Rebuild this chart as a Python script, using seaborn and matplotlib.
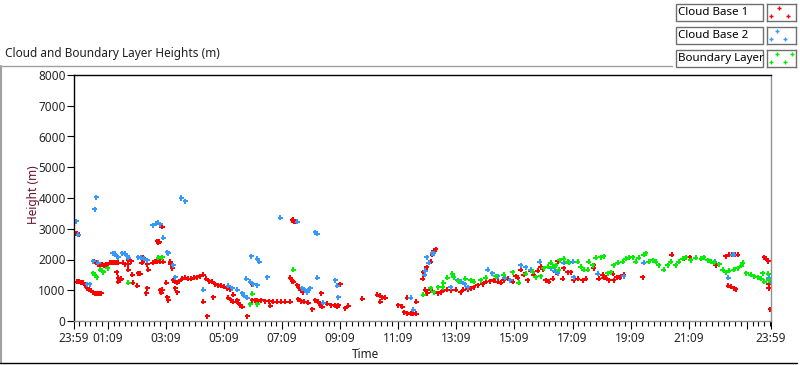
import numpy as np
import pandas as pd
import matplotlib
matplotlib.use("Agg")
import matplotlib.pyplot as plt
import seaborn as sns
from matplotlib.lines import Line2D
from matplotlib.patches import Rectangle

# time = hours elapsed since 23:59, height in metres
cb1_time = [
    0.03, 0.10, 0.17,
    0.10, 0.17, 0.24, 0.31, 0.38, 0.45, 0.52, 0.59, 0.66, 0.72, 0.79, 0.86, 0.93,
    0.69, 0.76, 0.83, 0.90, 0.97, 1.03, 1.10, 1.17, 1.24, 1.31, 1.38, 1.45, 1.52,
    1.48, 1.52, 1.59, 1.62, 1.52, 1.69, 1.76, 1.86, 1.86, 1.86, 1.97, 2.00, 2.03, 2.17,
    2.21, 2.28, 2.34, 2.38, 2.41, 2.48, 2.52, 2.52, 2.55, 2.72, 2.79, 2.86, 2.90,
    2.86, 2.90, 2.93, 3.03, 2.97, 3.07, 2.97, 3.00, 3.03, 3.17, 3.21, 3.24, 3.31, 3.34, 3.38,
    3.41, 3.48, 3.55, 3.48, 3.55, 3.62, 3.72, 3.83, 3.93, 4.03, 4.14, 4.24, 4.34, 4.45,
    4.55, 4.66, 4.76, 4.86, 4.97, 5.07, 5.17, 5.28, 5.38, 4.45, 4.59, 4.79,
    5.31, 5.41, 5.48, 5.48, 5.62, 5.66, 5.72, 5.79, 5.97, 6.14, 6.24, 6.34, 6.14,
    6.31, 6.45, 6.59, 6.72, 6.86, 7.00, 7.14, 7.28, 7.45, 6.76,
    7.52, 7.55, 7.59, 7.62, 7.45, 7.52, 7.55, 7.69, 7.76, 7.83, 7.90,
    7.72, 7.83, 7.93, 8.07, 8.21, 8.31, 8.41, 8.48, 8.55, 8.52,
    8.59, 8.72, 8.86, 9.00, 9.07, 9.17, 9.10, 9.34, 9.45, 9.93,
    10.45, 10.55, 10.62, 10.72, 10.55, 11.17, 11.31,
    11.38, 11.48, 11.59, 11.69, 11.79, 11.48, 11.79, 12.00, 12.10,
    12.03, 12.14, 12.28, 12.34, 12.38, 12.45, 12.17, 12.28, 12.41, 12.55, 12.69, 12.83, 12.97,
    12.52, 12.62, 12.72, 12.86, 13.14, 13.31, 13.41, 13.55, 13.66, 13.76, 13.90, 14.07,
    14.17, 14.34, 14.45, 14.59, 14.69, 14.79, 14.93, 15.10, 15.21, 15.28, 15.38, 15.48,
    15.62, 15.72, 15.83, 15.97, 16.07, 16.14, 16.24, 16.34, 16.48, 16.66, 16.59, 16.83,
    16.86, 17.00, 17.10, 17.21, 17.34, 17.52, 17.62, 17.90, 17.90, 18.07, 18.24, 18.41,
    18.59, 18.83, 18.93, 18.21, 18.31, 18.55, 18.69, 18.79, 19.59, 20.59, 21.00, 21.21,
    22.10, 22.45, 22.55, 22.66, 22.76, 22.86, 22.52, 22.62, 22.72, 22.79,
    23.76, 23.83, 23.90, 23.93, 23.93, 23.97,
]
cb1_height = [
    2860, 2830, 2800,
    1270, 1270, 1240, 1240, 1170, 1070, 1010, 980, 940, 910, 910, 880, 900,
    1950, 1890, 1850, 1850, 1850, 1820, 1850, 1850, 1890, 1890, 1890, 1890, 1890,
    1590, 1400, 1330, 1370, 1270, 1890, 1850, 1850, 1660, 2000, 1950, 1500, 1240, 1140,
    1560, 1530, 1890, 2050, 1980, 910, 1070, 1850, 1660, 1890, 1920, 1950, 1980,
    2600, 2540, 2570, 3060, 1920, 1920, 1000, 920, 1010, 1240, 780, 680, 1920, 1850, 1720,
    1330, 1270, 1240, 1070, 940, 1300, 1370, 1400, 1370, 1370, 1400, 1430, 1460, 1500,
    1370, 1300, 1270, 1200, 1170, 1140, 1110, 1070, 1040, 620, 160, 780,
    750, 680, 620, 850, 680, 590, 520, 460, 160, 680, 680, 650, 1200,
    680, 680, 650, 650, 620, 620, 620, 620, 620, 490,
    3280, 3300, 3250, 3220, 1400, 1300, 1270, 1170, 1070, 1000, 940,
    700, 650, 620, 590, 390, 680, 620, 520, 460, 910,
    600, 560, 520, 490, 460, 1200, 520, 420, 490, 720,
    850, 820, 780, 750, 620, 520, 460,
    290, 260, 230, 260, 230, 750, 620, 1370, 1010,
    1590, 1750, 1920, 2150, 2280, 2340, 910, 1000, 940, 910, 980, 1010, 1000,
    910, 940, 1010, 1010, 1010, 940, 1010, 1040, 1070, 1100, 1170, 1200,
    1270, 1300, 1330, 1270, 1240, 1330, 1370, 1270, 1460, 1400, 1660, 1500,
    1330, 1630, 1500, 1630, 1760, 1690, 1330, 1270, 1370, 1950, 1590, 1370,
    1720, 1590, 1590, 1330, 1370, 1330, 1370, 1820, 1720, 1370, 1400, 1330,
    1330, 1460, 1500, 1500, 1400, 1530, 1430, 1400, 1430, 2150, 2020, 2080,
    1820, 2110, 2150, 2150, 2150, 2150, 1140, 1110, 1070, 1040,
    2080, 2020, 1950, 1200, 1070, 390,
]

cb2_time = [
    0.07, 0.14, 0.72, 0.76, 0.66, 0.83, 0.45, 0.55,
    1.34, 1.41, 1.48, 1.52, 1.66, 1.76, 1.83, 1.86, 2.21, 2.31, 2.41, 2.52,
    2.72, 2.83, 2.90, 2.97, 3.07, 3.21, 3.24, 3.41, 3.48, 3.69, 3.83,
    4.45, 5.31, 5.45, 5.62, 5.79, 5.86, 5.97, 5.93, 6.10, 6.31, 6.38,
    6.07, 6.17, 6.31, 6.66, 7.10, 7.69, 7.86, 7.97, 8.03, 8.07, 8.14,
    8.31, 8.38, 8.38, 8.59, 9.00, 9.07, 9.10, 11.59, 11.69,
    12.07, 12.10, 12.14, 12.21, 12.34, 12.38, 12.97, 13.21, 13.34, 13.45, 13.55,
    14.24, 14.41, 14.59, 14.83, 15.03, 15.38, 15.55, 15.72, 16.03, 16.41, 16.55, 16.66,
    16.86, 17.17, 17.21, 18.03, 18.93, 19.62, 22.07, 22.52, 22.69, 22.72, 23.93, 24.00,
]
cb2_height = [
    3250, 2800, 3640, 4030, 1950, 1890, 1200, 1190,
    2210, 2180, 2110, 2080, 2200, 2180, 2110, 2050, 2080, 2050, 2020, 1980,
    3120, 3160, 3190, 3150, 2700, 2240, 2210, 1820, 1430, 4000, 3900,
    1010, 1140, 1070, 1010, 900, 820, 750, 1370, 2110, 2020, 1920,
    1270, 1200, 1170, 1430, 3350, 3220, 1070, 1000, 940, 1000, 1070,
    2890, 2830, 1400, 590, 1330, 1140, 780, 750, 360,
    1500, 1630, 2080, 1890, 2210, 2210, 1100, 1330, 1270, 1200, 1100,
    1660, 1560, 1460, 1400, 1330, 1820, 1750, 1660, 1920, 1720, 1630, 1560,
    1890, 1920, 1430, 1530, 1460, 1890, 1920, 1400, 2150, 2150, 1400, 1270,
]

bl_time = [
    0.66, 0.72, 0.79, 0.90, 0.97, 1.00, 1.17, 1.86, 2.90, 3.03,
    6.07, 6.31, 6.14, 7.55, 12.03,
    12.28, 12.38, 12.55, 12.69, 12.72, 12.86, 13.03, 13.07, 13.24, 13.48, 13.66, 13.76, 14.00,
    14.17, 14.52, 14.79, 15.10, 15.31, 15.55, 15.79, 15.90, 16.07, 16.17, 16.31, 16.41,
    16.48, 16.59, 16.69, 16.72, 16.86, 17.00, 17.03, 17.34, 17.45, 17.55, 17.69, 17.72,
    17.86, 17.97, 18.14, 18.24, 18.38, 18.48, 18.59, 18.72, 18.90, 19.00, 19.10, 19.24,
    19.34, 19.45, 19.62, 19.69, 19.79, 19.93, 20.03, 20.14, 20.31, 20.45, 20.55, 20.72,
    20.83, 20.97, 21.07, 21.24, 21.41, 21.59, 21.69, 21.83, 21.93, 22.03, 22.21, 22.34,
    22.45, 22.55, 22.72, 22.86, 22.97, 23.03, 23.14, 23.31, 23.41, 23.55, 23.66, 23.72,
    23.76, 23.90, 23.93,
]
bl_height = [
    1560, 1500, 1430, 1660, 1630, 1590, 1720, 1240, 2050, 2080,
    550, 550, 880, 1660, 850,
    1070, 940, 1100, 1100, 1240, 1400, 1530, 1430, 1300, 1370, 1330, 1270, 1330,
    1400, 1460, 1500, 1590, 1240, 1530, 1600, 1430, 1460, 1720, 1760, 1890,
    1760, 1820, 1660, 1980, 2020, 1920, 1890, 1920, 1760, 1660, 1660, 1920,
    1820, 2050, 2080, 2110, 1560, 1590, 1820, 1890, 1920, 2020, 2050, 2080,
    1920, 2050, 2150, 2210, 1920, 1980, 1920, 1820, 1660, 1820, 1920, 1820,
    1920, 2020, 2080, 1980, 2050, 2020, 2080, 1980, 1920, 1890, 1850, 1660,
    1590, 1630, 1660, 1720, 1790, 1890, 1560, 1500, 1460, 1430, 1370, 1560,
    1270, 1530, 1330,
]

series_names = ["Cloud Base 1", "Cloud Base 2", "Boundary Layer"]
series_colors = ["#FF0000", "#3399FF", "#00EE00"]

tick_hours = [0, 1 + 10 / 60, 3 + 10 / 60, 5 + 10 / 60, 7 + 10 / 60, 9 + 10 / 60, 11 + 10 / 60,
              13 + 10 / 60, 15 + 10 / 60, 17 + 10 / 60, 19 + 10 / 60, 21 + 10 / 60, 23 + 10 / 60, 24]
tick_labels = ["23:59", "01:09", "03:09", "05:09", "07:09", "09:09", "11:09",
               "13:09", "15:09", "17:09", "19:09", "21:09", "", "23:59"]

df = pd.concat([
    pd.DataFrame({"Time": cb1_time, "Height": cb1_height, "Series": series_names[0]}),
    pd.DataFrame({"Time": cb2_time, "Height": cb2_height, "Series": series_names[1]}),
    pd.DataFrame({"Time": bl_time, "Height": bl_height, "Series": series_names[2]}),
], ignore_index=True)

sns.set_theme(style="white")
plt.rcParams["font.family"] = ["Noto Sans", "DejaVu Sans"]

W, H = 800, 365
fig = plt.figure(figsize=(W / 100, H / 100), dpi=100)
fig.patch.set_facecolor("white")


def fx(x):
    return x / W


def fy(y):
    return 1 - y / H


ax = fig.add_axes([fx(74), fy(321), fx(771 - 74), (321 - 75) / H])
sns.scatterplot(data=df, x="Time", y="Height", hue="Series",
                palette=dict(zip(series_names, series_colors)),
                marker="+", s=13, linewidth=1.1, legend=False, ax=ax)
for coll in ax.collections:
    coll.set_antialiased(False)

ax.set_xlim(0, 24)
ax.set_ylim(0, 8000)
ax.set_yticks(range(0, 8001, 1000))
ax.set_xticks(tick_hours)
ax.set_xticklabels(tick_labels)
ax.set_xticks(np.arange(1 + 10 / 60 - 1.0, 24.01, 0.2), minor=True)
ax.tick_params(axis="y", which="major", direction="out", length=5, width=0.8,
               color="black", labelsize=8.5, pad=1, left=True)
ax.tick_params(axis="x", which="major", direction="out", length=6, width=0.8,
               color="black", labelsize=8.5, pad=2, bottom=True)
ax.tick_params(axis="x", which="minor", direction="out", length=3.5, width=0.8,
               color="black", bottom=True)
ax.set_xlabel("")
ax.set_ylabel("")
for side, col in [("top", "black"), ("left", "black"), ("right", "#909090"), ("bottom", "#909090")]:
    ax.spines[side].set_color(col)
    ax.spines[side].set_linewidth(1.0)
ax.grid(False)

fig.text(fx(33), fy(195), "Height (m)", rotation=90, ha="center", va="center",
         fontsize=8.5, color="#6b0f2a")
fig.text(fx(365), fy(354), "Time", ha="center", va="center", fontsize=8.5, color="#202020")
fig.text(fx(5), fy(53), "Cloud and Boundary Layer Heights (m)", ha="left", va="center",
         fontsize=8.5, color="#202020")

# panel frame
fig.add_artist(Line2D([fx(0), fx(672)], [fy(66), fy(66)], color="#a0a0a0", lw=1))
fig.add_artist(Line2D([fx(1), fx(1)], [fy(66), fy(363)], color="#a0a0a0", lw=1.5))
fig.add_artist(Line2D([fx(0), fx(797)], [fy(363), fy(363)], color="black", lw=1))

# legend boxes
sample_x = [[0.41, 0.14, 0.74], [0.36, 0.14, 0.62], [0.36, 0.86, 0.14, 0.62]]
sample_y = [[0.78, 0.28, 0.28], [0.78, 0.28, 0.28], [0.78, 0.78, 0.28, 0.28]]
for i, (name, col) in enumerate(zip(series_names, series_colors)):
    top = 4 + 23 * i
    fig.add_artist(Rectangle((fx(676), fy(top + 17)), fx(87), 17 / H,
                             transform=fig.transFigure, facecolor="white",
                             edgecolor="#707070", lw=1))
    fig.text(fx(678), fy(top + 8.5), name, ha="left", va="center",
             fontsize=8.3, color="black")
    box = fig.add_axes([fx(767), fy(top + 17), fx(29), 17 / H])
    box.scatter(sample_x[i], sample_y[i], marker="+", s=12, linewidths=1.0, color=col)
    box.set_xlim(0, 1)
    box.set_ylim(0, 1)
    box.set_xticks([])
    box.set_yticks([])
    for sp in box.spines.values():
        sp.set_color("#707070")
        sp.set_linewidth(1)

fig.savefig("out.png", dpi=100)
